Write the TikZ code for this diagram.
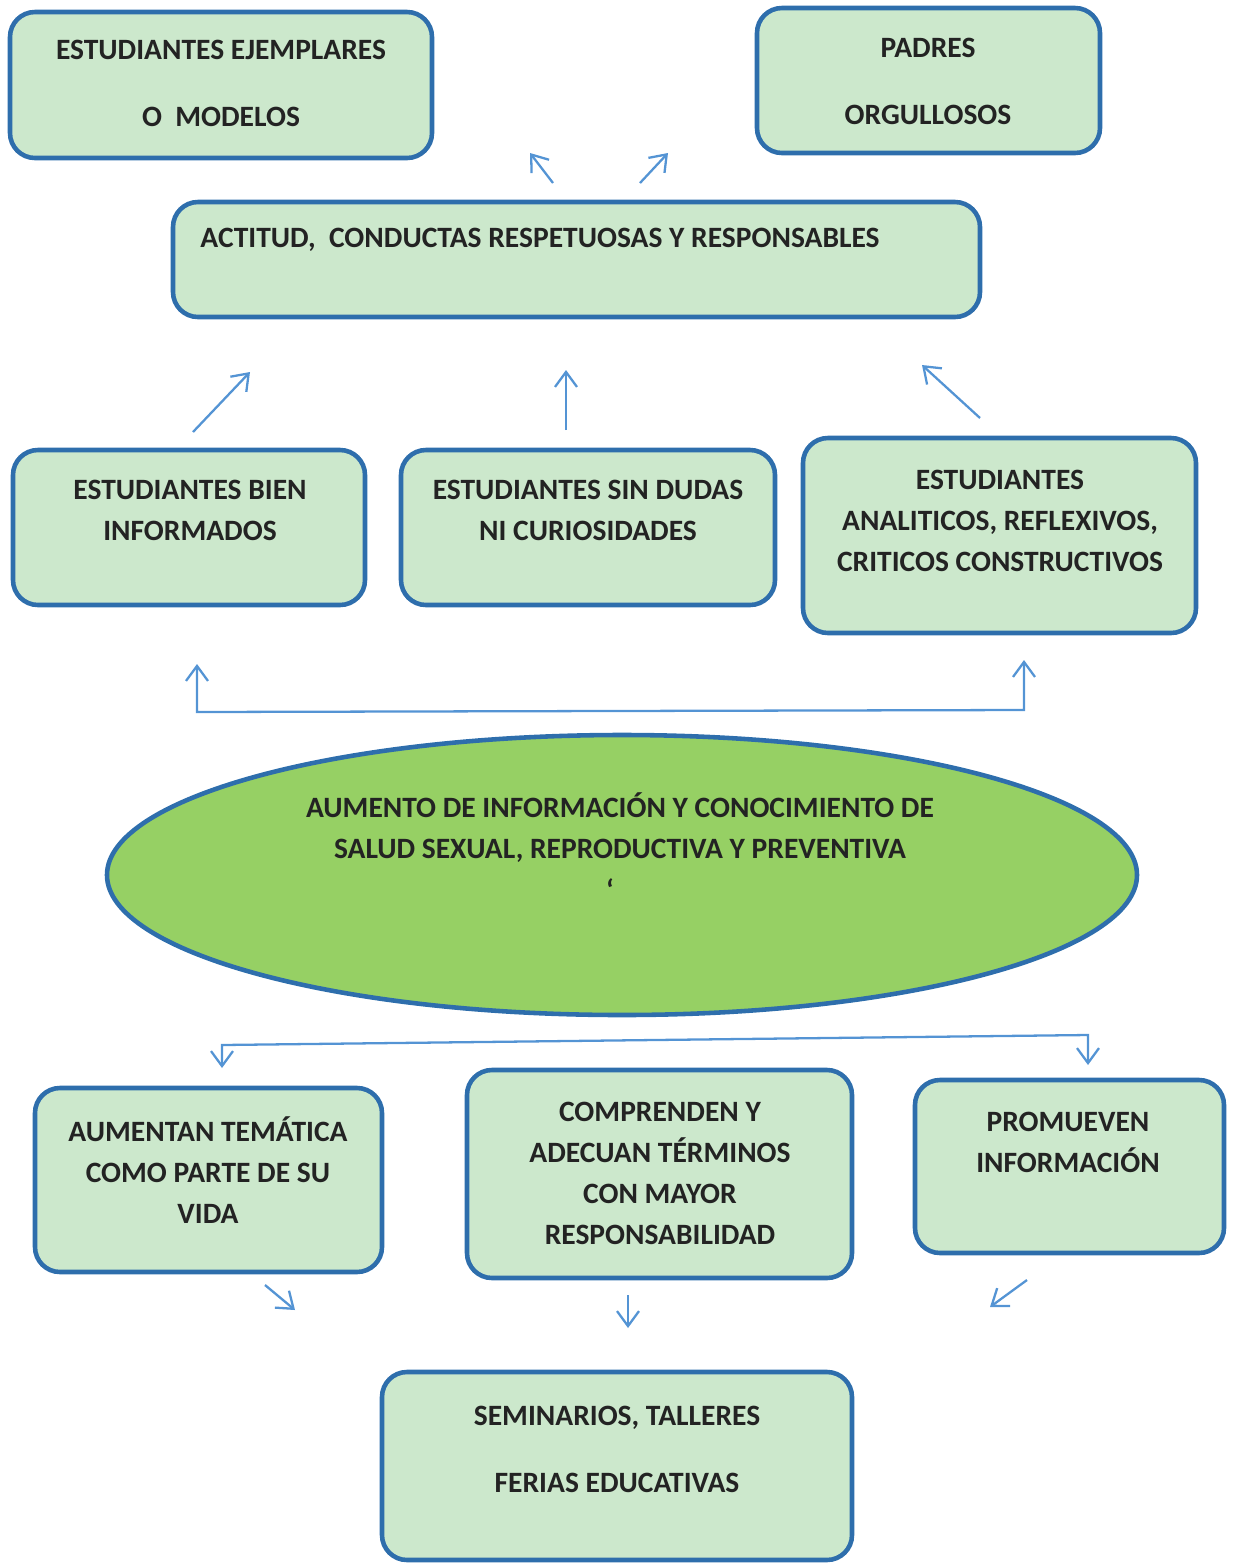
\documentclass[tikz,border=0pt]{standalone}
\usepackage{fontspec}
\setmainfont{Carlito}
\usetikzlibrary{arrows.meta,fit,shapes.geometric}
\definecolor{boxfill}{RGB}{204,232,204}
\definecolor{boxline}{RGB}{46,110,172}
\definecolor{ovalfill}{RGB}{150,208,100}
\definecolor{arrcol}{RGB}{84,148,212}
\definecolor{txtcol}{RGB}{35,35,35}
\begin{document}
\begin{tikzpicture}[x=0.2mm,y=-0.2mm,>={Straight Barb[length=3mm,width=4.4mm]}]
	\tikzstyle{box}=[rectangle,rounded corners=5mm,draw=boxline,line width=2.6pt,fill=boxfill,inner sep=0pt]
	\tikzstyle{oval}=[ellipse,draw=boxline,line width=2.6pt,fill=ovalfill,inner sep=0pt,minimum width=206mm,minimum height=56mm]
	\tikzstyle{txt}=[align=center,text=txtcol,font=\fontsize{16.8}{23.3}\selectfont\bfseries,inner sep=0pt]
	\tikzstyle{arr}=[color=arrcol,line width=1.3pt]
	\useasboundingbox (0,0) rectangle (1235,1563);

	% top row
	\node[box,fit={(10,12) (432,158)}]	(modelos)	{};
	\node[box,fit={(757,8) (1100,153)}]	(padres)	{};
	\node[txt]	(t-modelos)	at (221,83)	{ESTUDIANTES EJEMPLARES\\[5.2mm]O\ \ MODELOS};
	\node[txt]	(t-padres)	at (928,81)	{PADRES\\[5.2mm]ORGULLOSOS};

	% actitud
	\node[box,fit={(173,202) (980,317)}]	(actitud)	{};
	\node[txt]	(t-actitud)	at (540,240)	{ACTITUD,\ \ CONDUCTAS RESPETUOSAS Y RESPONSABLES};

	% estudiantes
	\node[box,fit={(13,450) (365,605)}]	(informados)	{};
	\node[box,fit={(401,450) (775,605)}]	(sindudas)	{};
	\node[box,fit={(803,438) (1196,633)}]	(analiticos)	{};
	\node[txt]	(t-informados)	at (190,510)	{ESTUDIANTES BIEN\\INFORMADOS};
	\node[txt]	(t-sindudas)	at (588,510)	{ESTUDIANTES SIN DUDAS\\NI CURIOSIDADES};
	\node[txt]	(t-analiticos)	at (1000,521)	{ESTUDIANTES\\ANALITICOS, REFLEXIVOS,\\CRITICOS CONSTRUCTIVOS};

	% aumento
	\node[oval]	(aumento)	at (622,875)	{};
	\node[txt]	(t-aumento)	at (620,828)	{AUMENTO DE INFORMACIÓN Y CONOCIMIENTO DE\\SALUD SEXUAL, REPRODUCTIVA Y PREVENTIVA};
	\node[txt]	(tick)	at (610,890)	{`};

	% resultados
	\node[box,fit={(35,1088) (382,1272)}]	(tematica)	{};
	\node[box,fit={(467,1070) (852,1278)}]	(terminos)	{};
	\node[box,fit={(915,1080) (1224,1253)}]	(promueven)	{};
	\node[txt]	(t-tematica)	at (208,1170)	{AUMENTAN TEMÁTICA\\COMO PARTE DE SU\\VIDA};
	\node[txt]	(t-terminos)	at (660,1173)	{COMPRENDEN Y\\ADECUAN TÉRMINOS\\CON MAYOR\\RESPONSABILIDAD};
	\node[txt]	(t-promueven)	at (1068,1142)	{PROMUEVEN\\INFORMACIÓN};

	% seminarios
	\node[box,fit={(382,1372) (852,1560)}]	(seminarios)	{};
	\node[txt]	(t-seminarios)	at (617,1449)	{SEMINARIOS, TALLERES\\[5.2mm]FERIAS EDUCATIVAS};

	% arrow ends
	\coordinate (u1) at (553,183);	\coordinate (v1) at (530,153);
	\coordinate (u2) at (640,183);	\coordinate (v2) at (668,153);
	\coordinate (u3) at (193,432);	\coordinate (v3) at (250,372);
	\coordinate (u4) at (566,430);	\coordinate (v4) at (566,370);
	\coordinate (u5) at (980,418);	\coordinate (v5) at (922,365);
	\coordinate (u6) at (265,1285);	\coordinate (v6) at (295,1310);
	\coordinate (u7) at (628,1295);	\coordinate (v7) at (628,1328);
	\coordinate (u8) at (1027,1280);	\coordinate (v8) at (990,1307);

	\path[arr]
		(u1)	edge[->]	(v1)
		(u2)	edge[->]	(v2)
		(u3)	edge[->]	(v3)
		(u4)	edge[->]	(v4)
		(u5)	edge[->]	(v5)
		(u6)	edge[->]	(v6)
		(u7)	edge[->]	(v7)
		(u8)	edge[->]	(v8);

	% brackets
	\draw[arr,<->] (197,664) -- (197,712) -- (1024,710) -- (1024,660);
	\draw[arr,<->] (222,1068) -- (222,1045) -- (1088,1035) -- (1088,1065);
\end{tikzpicture}
\end{document}
